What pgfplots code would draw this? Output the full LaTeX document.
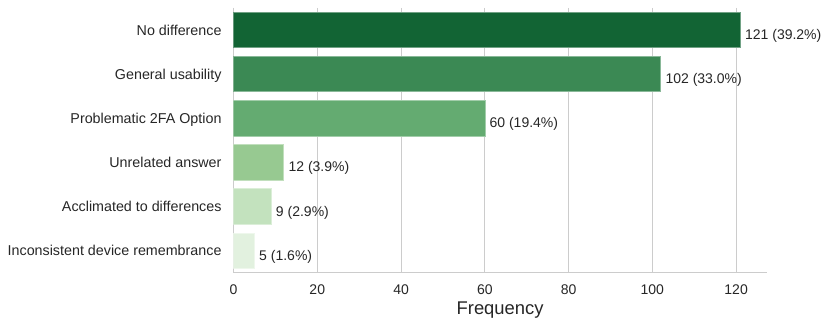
\documentclass[border=0pt]{standalone}
\usepackage{fontspec}
\setmainfont{Liberation Sans}
\usepackage{pgfplots}
\pgfplotsset{compat=1.18}
\definecolor{txt}{HTML}{262626}
\definecolor{grd}{HTML}{CCCCCC}
\definecolor{g1}{RGB}{18,100,52}
\definecolor{g2}{RGB}{59,137,84}
\definecolor{g3}{RGB}{100,171,113}
\definecolor{g4}{RGB}{151,201,145}
\definecolor{g5}{RGB}{195,226,190}
\definecolor{g6}{RGB}{226,241,223}
\begin{document}
\begin{tikzpicture}
\begin{axis}[
  scale only axis, width=533.2pt, height=264.5pt,
  xmin=0, xmax=127.3, ymin=-0.5, ymax=5.5, y dir=reverse,
  axis x line*=bottom, axis y line*=left,
  axis line style={grd, line width=1.25pt, -},
  xtick={0,20,...,120}, ytick={0,...,5},
  yticklabels={No difference, General usability, Problematic 2FA Option, Unrelated answer, Acclimated to differences, Inconsistent device remembrance},
  major tick length=0pt,
  xmajorgrids, grid style={grd, line width=1pt},
  tick label style={font=\fontsize{14}{16}\selectfont, text=txt, inner sep=0pt},
  xticklabel style={anchor=north, yshift=-12.5pt},
  yticklabel style={font=\fontsize{14.3}{16}\selectfont, anchor=base east, xshift=-11.8pt, yshift=-5pt},
  /pgf/number format/assume math mode=true,
  xlabel={Frequency},
  xlabel style={font=\fontsize{18.4}{20}\selectfont, text=txt, inner sep=0pt, anchor=base, at={(axis description cs:0.5,0)}, yshift=-42.5pt},
  xbar, bar width=0.8, bar shift=0pt,
  every node near coord/.append style={anchor=base west, inner sep=0pt, xshift=4.5pt, yshift=-9.7pt, font=\fontsize{14}{16}\selectfont, text=txt},
]
\addplot[fill=g1, draw=g1!60!white, line width=0.6pt, nodes near coords={121 (39.2\%)}] coordinates {(121,0)};
\addplot[fill=g2, draw=g2!60!white, line width=0.6pt, nodes near coords={102 (33.0\%)}] coordinates {(102,1)};
\addplot[fill=g3, draw=g3!60!white, line width=0.6pt, nodes near coords={60 (19.4\%)}] coordinates {(60,2)};
\addplot[fill=g4, draw=g4!60!white, line width=0.6pt, nodes near coords={12 (3.9\%)}] coordinates {(12,3)};
\addplot[fill=g5, draw=g5!60!white, line width=0.6pt, nodes near coords={9 (2.9\%)}] coordinates {(9,4)};
\addplot[fill=g6, draw=g6!60!white, line width=0.6pt, nodes near coords={5 (1.6\%)}] coordinates {(5,5)};
\end{axis}
\pgfresetboundingbox
\path (current axis.south west) ++(-233.5pt,-55.5pt) rectangle ++(831pt,328pt);
\end{tikzpicture}
\end{document}
